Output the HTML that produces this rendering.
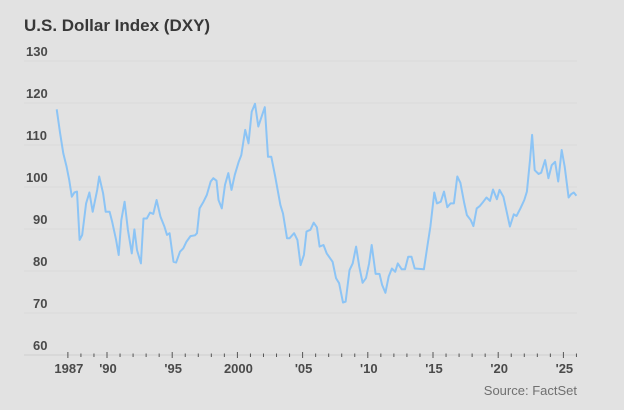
<!DOCTYPE html>
<html><head><meta charset="utf-8"><style>
html,body{margin:0;padding:0;background:#e2e2e2;}
svg{display:block;font-family:"Liberation Sans",sans-serif;}
</style></head><body>
<svg width="624" height="410" viewBox="0 0 624 410">
<rect x="0" y="0" width="624" height="410" fill="#e2e2e2"/>
<text x="24" y="31" font-size="17" font-weight="bold" fill="#383838">U.S. Dollar Index (DXY)</text>
<g id="grid"></g>
<g id="yl"></g>
<g id="xt"></g>
<path id="line" fill="none" stroke="#8cc4f5" stroke-width="2" stroke-linejoin="round"/>
<text x="577" y="395" font-size="13" fill="#707070" text-anchor="end">Source: FactSet</text>
</svg>
<script>
const yTicks=[60,70,80,90,100,110,120,130];
const xLabelYears=[1987,1990,1995,2000,2005,2010,2015,2020,2025];
const xLabels=["1987","'90","'95","2000","'05","'10","'15","'20","'25"];
const years=[1986.14,1986.4,1986.65,1986.9,1987.1,1987.3,1987.5,1987.7,1987.9,1988.1,1988.4,1988.65,1988.9,1989.25,1989.4,1989.7,1989.9,1990.2,1990.4,1990.7,1990.9,1991.1,1991.35,1991.6,1991.9,1992.1,1992.3,1992.6,1992.8,1993.05,1993.3,1993.55,1993.8,1994.1,1994.4,1994.6,1994.8,1995.1,1995.3,1995.6,1995.85,1996.1,1996.4,1996.75,1996.9,1997.1,1997.4,1997.65,1997.95,1998.15,1998.4,1998.55,1998.8,1999.05,1999.3,1999.55,1999.8,2000.1,2000.3,2000.6,2000.85,2001.1,2001.35,2001.6,2001.85,2002.1,2002.35,2002.6,2002.9,2003.3,2003.5,2003.8,2004.0,2004.35,2004.6,2004.85,2005.1,2005.3,2005.6,2005.85,2006.1,2006.3,2006.6,2006.85,2007.3,2007.56,2007.8,2008.1,2008.3,2008.6,2008.84,2009.1,2009.35,2009.6,2009.86,2010.1,2010.3,2010.6,2010.9,2011.1,2011.35,2011.6,2011.85,2012.1,2012.3,2012.6,2012.85,2013.1,2013.35,2013.6,2014.3,2014.56,2014.8,2015.1,2015.3,2015.6,2015.84,2016.1,2016.35,2016.6,2016.86,2017.1,2017.4,2017.6,2017.9,2018.1,2018.35,2018.6,2018.86,2019.1,2019.37,2019.6,2019.9,2020.1,2020.4,2020.65,2020.9,2021.2,2021.4,2021.7,2022.0,2022.2,2022.44,2022.6,2022.8,2023.1,2023.3,2023.6,2023.85,2024.1,2024.36,2024.6,2024.87,2025.1,2025.4,2025.6,2025.8,2026.0];
const values=[118.5,112.8,108,104.8,101.7,97.7,98.7,98.9,87.4,88.6,96.1,98.7,94.1,99.3,102.5,98.5,94.1,94.1,91.7,87.4,83.8,92.1,96.5,89.8,84.2,89.9,85,81.8,92.5,92.5,93.9,93.6,96.9,92.9,90.6,88.6,89,82.2,82,84.6,85.4,87,88.3,88.5,89,94.9,96.5,98.1,101.3,102.1,101.5,96.9,94.9,100.5,103.3,99.3,102.9,106,107.6,113.6,110.4,117.9,119.8,114.4,116.7,119,107.2,107.2,102.5,95.7,93.7,87.8,87.8,89,87.4,81.4,83.8,89.4,89.8,91.5,90.4,85.8,86.2,84.2,82.2,78.3,77.1,72.5,72.7,80.2,81.8,85.8,81,77.2,78.3,81.8,86.2,79.3,79.3,76.7,74.8,78.7,80.6,79.8,81.8,80.4,80.4,83.4,83.4,80.6,80.4,85.8,90.6,98.7,96.1,96.5,98.9,95.2,96.1,96.1,102.5,101,96.1,93.3,92.1,90.7,94.9,95.5,96.5,97.5,96.7,99.4,97.1,99.3,97.7,94.1,90.6,93.5,93.1,94.9,96.9,98.9,106.4,112.4,104,103.1,103.4,106.4,102.1,105.2,106,101.3,108.8,104.8,97.5,98.3,98.7,97.9];
const NS='http://www.w3.org/2000/svg';
function xs(yr){return 107+(yr-1990)*13.04;}
function ys(v){return 355-(v-60)*4.2;}
const grid=document.getElementById('grid'),yl=document.getElementById('yl'),xt=document.getElementById('xt');
yTicks.forEach(v=>{
  const l=document.createElementNS(NS,'line');
  
  
  l.setAttribute('x1',24);l.setAttribute('x2',577);l.setAttribute('y1',ys(v));l.setAttribute('y2',ys(v));
  l.setAttribute('stroke',v===60?'#cfcfcf':'#d9d9d9');l.setAttribute('stroke-width',1);
  grid.appendChild(l);
  const t=document.createElementNS(NS,'text');
  
  
  t.setAttribute('x',v>=100?26:33);t.setAttribute('y',ys(v)-5);
  t.setAttribute('font-size','13');t.setAttribute('font-weight','bold');t.setAttribute('fill','#4a4a4a');
  t.textContent=v;yl.appendChild(t);
});
for(let yr=1987;yr<=2026;yr++){
  const major=xLabelYears.includes(yr);
  const l=document.createElementNS(NS,'line');
  
  
  l.setAttribute('x1',xs(yr));l.setAttribute('x2',xs(yr));
  l.setAttribute('y1',major?352:353.5);l.setAttribute('y2',major?358:357);
  l.setAttribute('stroke','#555');l.setAttribute('stroke-width',1);
  xt.appendChild(l);
}
xLabelYears.forEach((yr,i)=>{
  const t=document.createElementNS(NS,'text');
  
  
  t.setAttribute('x',xs(yr)+1);t.setAttribute('y',373);t.setAttribute('text-anchor','middle');
  t.setAttribute('font-size','13');t.setAttribute('font-weight','bold');t.setAttribute('fill','#4a4a4a');
  t.textContent=xLabels[i];xt.appendChild(t);
});
document.getElementById('line').setAttribute('d',years.map((y,i)=>(i?'L':'M')+xs(y).toFixed(1)+','+ys(values[i]).toFixed(1)).join(''));
</script>
</body></html>
